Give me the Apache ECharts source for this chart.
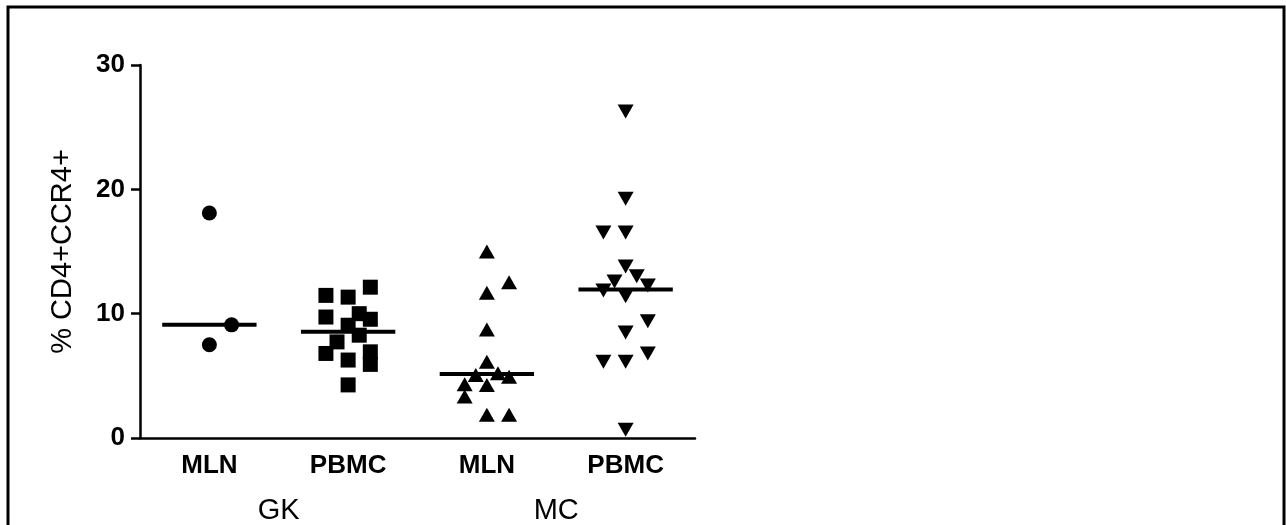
<!DOCTYPE html>
<html>
<head>
<meta charset="utf-8">
<script src="https://cdn.jsdelivr.net/npm/echarts@6/dist/echarts.min.js"></script>
<style>html,body{margin:0;padding:0;background:#fff}#c{width:1286px;height:525px}</style>
</head>
<body>
<div id="c"></div>
<script>
// Categories (column labels) and groups
const categories = ['MLN', 'PBMC', 'MLN', 'PBMC'];
const groups = ['GK', 'MC'];
const yTicks = [0, 10, 20, 30];
const yTitle = '% CD4+CCR4+';

// Values per column (% CD4+CCR4+)
const gkMln = [18.1, 9.1, 7.5];
const gkPbmc = [12.13, 11.47, 11.33, 10.0, 9.73, 9.55, 9.07, 8.27, 7.73, 6.93, 6.8, 6.27, 5.92, 4.27];
const mcMln = [15.0, 12.53, 11.68, 8.72, 6.13, 5.2, 5.07, 4.93, 4.32, 4.27, 3.33, 1.87, 1.87];
const mcPbmc = [26.27, 19.25, 16.53, 16.53, 13.79, 13.01, 12.59, 12.27, 11.87, 11.41, 9.39, 8.48, 6.8, 6.13, 6.13, 0.67];

// Horizontal scatter (jitter) within each column, in column-width units
const gkMlnJitter = [0, 0.16, 0];
const gkPbmcJitter = [0.16, -0.16, 0, 0.08, -0.16, 0.16, 0, 0.08, -0.08, 0.16, -0.16, 0, 0.16, 0];
const mcMlnJitter = [0, 0.16, 0, 0, 0, 0.08, -0.08, 0.16, -0.16, 0, -0.16, 0, 0.16];
const mcPbmcJitter = [0, 0, -0.16, 0, 0, 0.08, -0.08, 0.16, -0.16, 0, 0.16, 0, 0.16, -0.16, 0, 0];

// Median line for each column
const medians = [9.1, 8.55, 5.15, 11.95];

const columns = [
  { values: gkMln, jitter: gkMlnJitter, symbol: 'circle', rotate: 0, size: 15 },
  { values: gkPbmc, jitter: gkPbmcJitter, symbol: 'rect', rotate: 0, size: 15 },
  { values: mcMln, jitter: mcMlnJitter, symbol: 'triangle', rotate: 0, size: [16, 14] },
  { values: mcPbmc, jitter: mcPbmcJitter, symbol: 'triangle', rotate: 180, size: [16, 14] }
];

const series = [];
columns.forEach((col, i) => {
  series.push({
    type: 'scatter',
    xAxisIndex: 1,
    symbol: col.symbol,
    symbolRotate: col.rotate,
    symbolSize: col.size,
    itemStyle: { color: '#000', opacity: 1 },
    emphasis: { disabled: true },
    z: 3,
    data: col.values.map((v, k) => [i + 0.5 + col.jitter[k], v])
  });
  series.push({
    type: 'line',
    xAxisIndex: 1,
    symbol: 'none',
    lineStyle: { color: '#000', width: 4, opacity: 1 },
    z: 4,
    data: [[i + 0.5 - 0.34, medians[i]], [i + 0.5 + 0.34, medians[i]]]
  });
});

const chart = echarts.init(document.getElementById('c'));
chart.setOption({
  animation: false,
  backgroundColor: '#fff',
  textStyle: { fontFamily: '"Liberation Sans", Arial, sans-serif', color: '#000' },
  graphic: [{
    type: 'rect',
    shape: { x: 8, y: 7, width: 1276, height: 540 },
    style: { fill: null, stroke: '#000', lineWidth: 3 },
    silent: true
  }],
  grid: { left: 140, right: 591, top: 65, bottom: 85 },
  xAxis: [
    {
      type: 'category',
      data: categories,
      boundaryGap: true,
      axisLine: { lineStyle: { color: '#000', width: 2.5 } },
      axisTick: { alignWithLabel: true, length: 9, lineStyle: { color: '#000', width: 2.5 } },
      axisLabel: { color: '#000', fontSize: 26, fontWeight: 'bold', margin: 15 },
      splitLine: { show: false }
    },
    {
      type: 'value',
      min: 0, max: 4,
      show: false
    },
    {
      type: 'category',
      data: groups,
      position: 'bottom',
      axisLine: { show: false },
      axisTick: { show: false },
      axisLabel: { color: '#000', fontSize: 29, margin: 58 },
      splitLine: { show: false }
    }
  ],
  yAxis: {
    type: 'value',
    min: yTicks[0], max: yTicks[yTicks.length - 1], interval: 10,
    name: yTitle,
    nameLocation: 'middle',
    nameRotate: 90,
    nameGap: 63,
    nameTextStyle: { fontSize: 29, color: '#000' },
    axisLine: { show: true, lineStyle: { color: '#000', width: 2.5 } },
    axisTick: { show: true, length: 9, lineStyle: { color: '#000', width: 2.5 } },
    axisLabel: { color: '#000', fontSize: 26, fontWeight: 'bold', margin: 15 },
    splitLine: { show: false }
  },
  series: series
});
</script>
</body>
</html>
